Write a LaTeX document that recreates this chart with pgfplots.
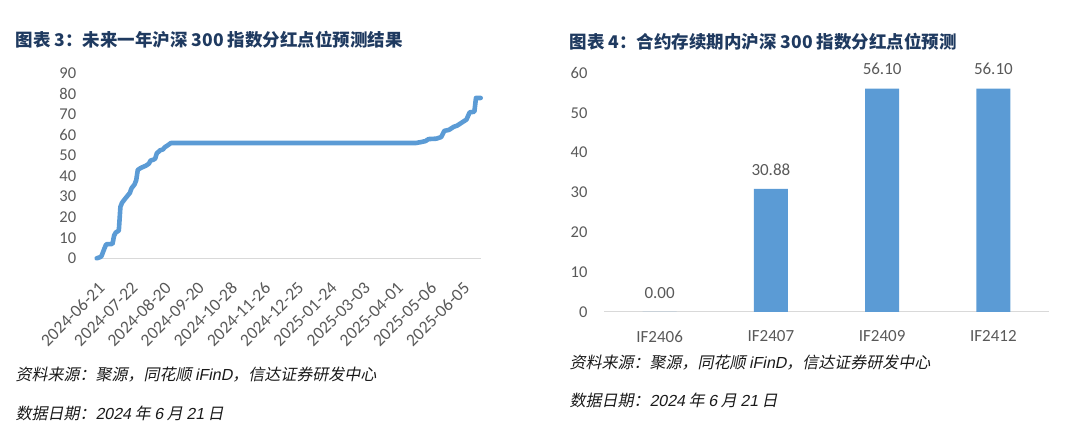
\documentclass[border=0pt]{standalone}
\usepackage{pgfplots}
\pgfplotsset{compat=1.18}
\usepackage{fontspec}
\setmainfont{Carlito}
\newfontfamily\cjk{Noto Sans CJK SC}
\newfontfamily\cjki{Noto Sans CJK SC}[FakeSlant=0.2]
\newfontfamily\lati{Liberation Sans}[FakeSlant=0.2]
\definecolor{excelblue}{HTML}{5B9BD5}
\definecolor{tickgray}{HTML}{595959}
\definecolor{axgray}{HTML}{D9D9D9}
\definecolor{titlenavy}{HTML}{1F3A60}
\definecolor{foot}{HTML}{1A1A1A}
\begin{document}
\begin{tikzpicture}
\path[use as bounding box] (0pt,0pt) rectangle (1080pt,-446pt);
% ---------- titles ----------
\node[anchor=west,text=titlenavy,font=\cjk\bfseries\fontsize{17.5}{20}\selectfont] at (12pt,-40pt) {图表 3：未来一年沪深 300 指数分红点位预测结果};
\node[anchor=west,text=titlenavy,font=\cjk\bfseries\fontsize{17.5}{20}\selectfont] at (566pt,-42pt) {图表 4：合约存续期内沪深 300 指数分红点位预测};
% ---------- footers ----------
\node[anchor=west,text=foot,font=\cjki\fontsize{16}{18}\selectfont] at (12pt,-375pt) {资料来源：聚源，同花顺 {\lati iFinD}，信达证券研发中心};
\node[anchor=west,text=foot,font=\cjki\fontsize{16}{18}\selectfont] at (12pt,-413pt) {数据日期：{\lati 2024} 年 {\lati 6} 月 {\lati 21} 日};
\node[anchor=west,text=foot,font=\cjki\fontsize{16}{18}\selectfont] at (566pt,-363pt) {资料来源：聚源，同花顺 {\lati iFinD}，信达证券研发中心};
\node[anchor=west,text=foot,font=\cjki\fontsize{16}{18}\selectfont] at (566pt,-400pt) {数据日期：{\lati 2024} 年 {\lati 6} 月 {\lati 21} 日};
% ---------- left chart ----------
\begin{axis}[
  at={(96.7pt,-258.3pt)}, anchor=south west,
  scale only axis, width=384pt, height=185pt,
  xmin=0, xmax=243, ymin=0, ymax=90,
  axis lines=left,
  axis line style={-},
  y axis line style={draw=none},
  x axis line style={draw=axgray, line width=1pt},
  major tick length=0pt,
  ytick={0,10,...,90},
  yticklabel style={text=tickgray, font=\fontsize{16.5}{18}\selectfont, xshift=-17pt},
  xtick={0,21,42,63,84,105,126,147,168,189,210,231},
  xticklabels={2024-06-21,2024-07-22,2024-08-20,2024-09-20,2024-10-28,2024-11-26,2024-12-25,2025-01-24,2025-03-03,2025-04-01,2025-05-06,2025-06-05},
  xticklabel style={text=tickgray, font=\fontsize{17.5}{18}\selectfont, inner sep=0pt, xshift=5pt, yshift=-27pt, rotate=45, anchor=east},
  /pgf/number format/assume math mode=true,
  clip=false,
]
\addplot[excelblue, line width=4.6pt, line join=round, line cap=round] coordinates {
(0,0) (2,0.5) (3,1) (5,5) (6,6.8) (10,7) (11,11) (12,12.5) (14,13.5) (15,25)
(16,27) (18,29) (20,30.9) (21,31.8) (22,34) (24,36) (25,38) (26,43) (28,44)
(31,45) (33,46) (34,47.5) (36,48) (37,48.5) (38,51) (40,52.5) (42,53) (43,54)
(45,55) (47,56.1) (202,56.1) (205,56.5) (208,57) (210,58) (215,58.2) (218,59)
(220,62) (223,62.5) (226,64) (228,64.5) (230,65.5) (232,66.5) (234,67.5)
(236,71) (239,71.3) (240,78) (243,78)
};
\end{axis}
% ---------- right chart ----------
\begin{axis}[
  at={(604pt,-312pt)}, anchor=south west,
  scale only axis, width=445pt, height=239pt,
  xmin=-0.5, xmax=3.5, ymin=0, ymax=60,
  axis lines=left,
  axis line style={-},
  y axis line style={draw=none},
  x axis line style={draw=axgray, line width=1pt},
  major tick length=0pt,
  ytick={0,10,...,60},
  yticklabel style={text=tickgray, font=\fontsize{16.5}{18}\selectfont, xshift=-13pt},
  xtick={0,1,2,3},
  xticklabels={IF2406,IF2407,IF2409,IF2412},
  xticklabel style={text=tickgray, font=\fontsize{17}{18}\selectfont, yshift=-15pt},
  /pgf/number format/assume math mode=true,
  ybar, bar width=34pt,
  nodes near coords,
  nodes near coords style={text=tickgray, font=\fontsize{17}{18}\selectfont, yshift=10pt,
    /pgf/number format/.cd, fixed, fixed zerofill, precision=2, assume math mode=true},
  clip=false,
]
\addplot[fill=excelblue, draw=none] coordinates {
(0,0) (1,30.88) (2,56.10) (3,56.10)
};
\end{axis}
\end{tikzpicture}
\end{document}
